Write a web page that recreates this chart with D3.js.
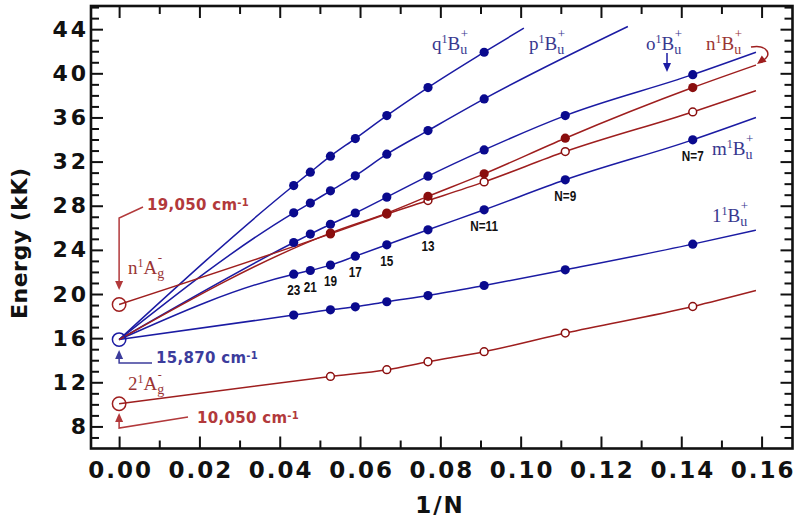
<!DOCTYPE html>
<html>
<head>
<meta charset="utf-8">
<script src="https://cdn.jsdelivr.net/npm/d3@7"></script>
<style>
  html, body { margin: 0; padding: 0; background: #fff; }
  svg { display: block; }
</style>
</head>
<body>
<svg id="chart" width="800" height="522"></svg>
<script>
// ---------------- DATA ----------------
const N_all = [23, 21, 19, 17, 15, 13, 11, 9, 7];
const pointLabels = ["23", "21", "19", "17", "15", "13", "N=11", "N=9", "N=7"];

const q_N = [23, 21, 19, 17, 15, 13, 11];
const q_E = [29.83, 31.04, 32.49, 34.09, 36.17, 38.71, 41.91];
const p_N = [23, 21, 19, 17, 15, 13, 11];
const p_E = [27.36, 28.24, 29.35, 30.71, 32.67, 34.81, 37.68];
const o_N = [23, 21, 19, 17, 15, 13, 11, 9, 7];
const o_E = [24.67, 25.43, 26.32, 27.34, 28.78, 30.68, 33.06, 36.17, 39.88];
const nB_N = [19, 15, 13, 11, 9, 7];
const nB_E = [25.52, 27.33, 28.85, 30.89, 34.12, 38.71];
const nA_N = [19, 15, 13, 11, 9, 7];
const nA_E = [25.45, 27.25, 28.47, 30.16, 32.91, 36.50];
const m_N = [23, 21, 19, 17, 15, 13, 11, 9, 7];
const m_E = [21.80, 22.13, 22.62, 23.43, 24.46, 25.82, 27.63, 30.35, 33.97];
const b1_N = [23, 19, 17, 15, 13, 11, 9, 7];
const b1_E = [18.09, 18.57, 18.84, 19.30, 19.86, 20.77, 22.19, 24.52];
const a2_N = [19, 15, 13, 11, 9, 7];
const a2_E = [12.53, 13.14, 13.86, 14.77, 16.46, 18.87];

// extrapolated limits (1/N -> 0), kK
const BuLimit = 15.87;
const nAgLimit = 19.05;
const twoAgLimit = 10.05;

// far ends of the fitted curves [1/N, E]
const q_end = [0.1008, 44.10];
const p_end = [0.1267, 44.24];
const o_end = [0.1586, 41.91];
const nB_end = [0.1586, 40.75];
const nA_end = [0.1586, 38.43];
const m_end = [0.1586, 35.99];
const b1_end = [0.1586, 25.79];
const a2_end = [0.1586, 20.32];

const xMajorTicks = [0, 0.02, 0.04, 0.06, 0.08, 0.10, 0.12, 0.14, 0.16];
const xMinorTicks = [0.01, 0.03, 0.05, 0.07, 0.09, 0.11, 0.13, 0.15];
const yMajorTicks = [8, 12, 16, 20, 24, 28, 32, 36, 40, 44];
const yMinorTicks = [7, 9, 10, 11, 13, 14, 15, 17, 18, 19, 21, 22, 23, 25, 26, 27, 29, 30, 31, 33, 34, 35, 37, 38, 39, 41, 42, 43, 45, 46];

// ---------------- STYLE ----------------
const BLUE_LINE = "#1b1ba3", BLUE_DOT = "#0a0a8e", BLUE_TXT = "#38388f";
const RED_LINE = "#9e1e1e", RED_DOT = "#8a0e0e", RED_TXT = "#9a3434", RED_ANN = "#b2393b", BLUE_ANN = "#3c3c9c";

const svg = d3.select("#chart");
const L = 91, R = 792.5, T = 6, B = 448.5;
const x = d3.scaleLinear().domain([-0.007, 0.1677]).range([L, R]);
const y = d3.scaleLinear().domain([6, 46.1]).range([B, T]);

svg.append("rect").attr("width", 800).attr("height", 522).attr("fill", "#fff");

// ---------------- AXES ----------------
function styleAxis(g, showText) {
  g.select(".domain").remove();
  g.selectAll(".tick line").attr("stroke", "#111").attr("stroke-width", 2);
  if (!showText) g.selectAll(".tick text").remove();
}
const tickFont = "'DejaVu Sans', 'Liberation Sans', sans-serif";

// bottom
const gxb = svg.append("g").attr("transform", `translate(0,${B})`)
  .call(d3.axisBottom(x).tickValues(xMajorTicks).tickSize(-12).tickPadding(13).tickFormat(d3.format(".2f")));
styleAxis(gxb, true);
gxb.selectAll(".tick text").attr("fill", "#111")
  .style("font-family", tickFont).style("font-weight", "bold").style("font-size", "23px")
  .style("letter-spacing", "2px").attr("dx", "1px");
svg.append("g").attr("transform", `translate(0,${B})`)
  .call(d3.axisBottom(x).tickValues(xMinorTicks).tickSize(-8)).call(g => styleAxis(g, false));
// top
svg.append("g").attr("transform", `translate(0,${T})`)
  .call(d3.axisTop(x).tickValues(xMajorTicks).tickSize(-12)).call(g => styleAxis(g, false));
svg.append("g").attr("transform", `translate(0,${T})`)
  .call(d3.axisTop(x).tickValues(xMinorTicks).tickSize(-8)).call(g => styleAxis(g, false));
// left
const gyl = svg.append("g").attr("transform", `translate(${L},0)`)
  .call(d3.axisLeft(y).tickValues(yMajorTicks).tickSize(-12).tickPadding(2));
styleAxis(gyl, true);
gyl.selectAll(".tick text").attr("fill", "#111")
  .style("font-family", tickFont).style("font-weight", "bold").style("font-size", "22px")
  .style("letter-spacing", "3px");
svg.append("g").attr("transform", `translate(${L},0)`)
  .call(d3.axisLeft(y).tickValues(yMinorTicks).tickSize(-8)).call(g => styleAxis(g, false));
// right
svg.append("g").attr("transform", `translate(${R},0)`)
  .call(d3.axisRight(y).tickValues(yMajorTicks).tickSize(-12)).call(g => styleAxis(g, false));
svg.append("g").attr("transform", `translate(${R},0)`)
  .call(d3.axisRight(y).tickValues(yMinorTicks).tickSize(-8)).call(g => styleAxis(g, false));

// frame
svg.append("rect").attr("x", L).attr("y", T).attr("width", R - L).attr("height", B - T)
  .attr("fill", "none").attr("stroke", "#111").attr("stroke-width", 2.6);

// axis titles
svg.append("text").attr("transform", `translate(27,${(T + B) / 2 + 16}) rotate(-90)`)
  .attr("text-anchor", "middle").attr("fill", "#111")
  .style("font-family", tickFont).style("font-weight", "bold").style("font-size", "22px")
  .style("letter-spacing", "0.5px").text("Energy (kK)");
svg.append("text").attr("x", 440).attr("y", 513).attr("text-anchor", "middle").attr("fill", "#111")
  .style("font-family", tickFont).style("font-weight", "bold").style("font-size", "23px")
  .style("letter-spacing", "2px").text("1/N");

// ---------------- CURVES ----------------
const line = d3.line().x(d => x(d[0])).y(d => y(d[1])).curve(d3.curveMonotoneX);
function pts(Ns, Es) { return Ns.map((n, i) => [1 / n, Es[i]]); }
function curve(limit, Ns, Es, end, color) {
  const data = [[0, limit]].concat(pts(Ns, Es).sort((a, b) => a[0] - b[0]), [end]);
  svg.append("path").datum(data).attr("d", line).attr("fill", "none")
    .attr("stroke", color).attr("stroke-width", 1.5);
}
curve(BuLimit, q_N, q_E, q_end, BLUE_LINE);
curve(BuLimit, p_N, p_E, p_end, BLUE_LINE);
curve(BuLimit, o_N, o_E, o_end, BLUE_LINE);
curve(BuLimit, m_N, m_E, m_end, BLUE_LINE);
curve(BuLimit, b1_N, b1_E, b1_end, BLUE_LINE);
curve(BuLimit, nB_N, nB_E, nB_end, RED_LINE);
curve(nAgLimit, nA_N, nA_E, nA_end, RED_LINE);
curve(twoAgLimit, a2_N, a2_E, a2_end, RED_LINE);

// limit circles
[[BuLimit, BLUE_LINE], [nAgLimit, RED_LINE], [twoAgLimit, RED_LINE]].forEach(([v, c]) => {
  svg.append("circle").attr("cx", x(0)).attr("cy", y(v)).attr("r", 6.7)
    .attr("fill", "none").attr("stroke", c).attr("stroke-width", 1.5);
});

// ---------------- MARKERS ----------------
function filled(Ns, Es, color) {
  svg.append("g").selectAll("circle").data(pts(Ns, Es)).join("circle")
    .attr("cx", d => x(d[0])).attr("cy", d => y(d[1])).attr("r", 4.6).attr("fill", color);
}
function open(Ns, Es, color) {
  svg.append("g").selectAll("circle").data(pts(Ns, Es)).join("circle")
    .attr("cx", d => x(d[0])).attr("cy", d => y(d[1])).attr("r", 3.9)
    .attr("fill", "#fff").attr("stroke", color).attr("stroke-width", 1.5);
}
filled(q_N, q_E, BLUE_DOT);
filled(p_N, p_E, BLUE_DOT);
filled(o_N, o_E, BLUE_DOT);
filled(m_N, m_E, BLUE_DOT);
filled(b1_N, b1_E, BLUE_DOT);
open(nA_N, nA_E, RED_DOT);
filled(nB_N, nB_E, RED_DOT);
open(a2_N, a2_E, RED_DOT);

// N labels under the m1Bu+ points (condensed bold)
svg.append("g").selectAll("text").data(m_N.map((n, i) => [1 / n, m_E[i], pointLabels[i]])).join("text")
  .attr("transform", d => `translate(${x(d[0])},${y(d[1]) + 21}) scale(0.84,1)`)
  .attr("text-anchor", "middle").attr("fill", "#111")
  .style("font-family", "'Liberation Sans', Arial, sans-serif")
  .style("font-weight", "bold").style("font-size", "14px").text(d => d[2]);

// ---------------- STATE LABELS ----------------
function term(px, py, a, sup, b, sub, sign, color, signSize, signDy) {
  const t = svg.append("text").attr("x", px).attr("y", py).attr("fill", color)
    .style("font-family", "'Liberation Serif', 'Times New Roman', serif").style("font-size", "19px");
  t.append("tspan").text(a);
  t.append("tspan").attr("dy", -7).style("font-size", "12px").text(sup);
  t.append("tspan").attr("dy", 7).text(b);
  t.append("tspan").attr("dy", 4).style("font-size", "14px").text(sub);
  t.append("tspan").attr("dx", -6.5).attr("dy", signDy || -16)
    .style("font-size", (signSize || 13) + "px").text(sign);
}
term(432, 50, "q", "1", "B", "u", "+", BLUE_TXT);
term(529, 50, "p", "1", "B", "u", "+", BLUE_TXT);
term(646, 50, "o", "1", "B", "u", "+", BLUE_TXT);
term(706, 50, "n", "1", "B", "u", "+", RED_TXT);
term(712, 155, "m", "1", "B", "u", "+", BLUE_TXT);
term(712, 222, "1", "1", "B", "u", "+", BLUE_TXT);
term(128, 274, "n", "1", "A", "g", "-", RED_TXT);
term(128, 390, "2", "1", "A", "g", "-", RED_TXT, 12, -15);

// ---------------- ANNOTATIONS ----------------
function arrowHead(tx, ty, dx, dy, color) {
  const len = 9, hw = 4;
  const bx = tx - dx * len, by = ty - dy * len;
  const pxp = -dy * hw, pyp = dx * hw;
  svg.append("path").attr("d", `M${tx},${ty}L${bx + pxp},${by + pyp}L${bx - pxp},${by - pyp}Z`).attr("fill", color);
}
function poly(points, color) {
  svg.append("path").attr("d", d3.line()(points)).attr("fill", "none")
    .attr("stroke", color).attr("stroke-width", 1.5);
}
function ann(px, py, main, color) {
  const t = svg.append("text").attr("x", px).attr("y", py).attr("fill", color)
    .style("font-family", tickFont).style("font-weight", "bold").style("font-size", "15px")
    .style("letter-spacing", "0.3px");
  t.append("tspan").text(main);
  t.append("tspan").attr("dy", -4).style("font-size", "10px").text("-1");
}
const x0 = x(0);
// 19,050
poly([[143, 207], [x0, 218], [x0, 282]], RED_ANN);
arrowHead(x0, 290, 0, 1, RED_ANN);
ann(147, 210, "19,050 cm", RED_ANN);
// 15,870
poly([[152, 363], [x0, 363], [x0, 357]], BLUE_ANN);
arrowHead(x0, 350, 0, -1, BLUE_ANN);
ann(156, 363, "15,870 cm", BLUE_ANN);
// 10,050
poly([[188, 417], [x0, 428], [x0, 420]], RED_ANN);
arrowHead(x0, 413, 0, -1, RED_ANN);
ann(197, 423, "10,050 cm", RED_ANN);

// o1Bu+ arrow
poly([[667, 53], [667, 65]], BLUE_LINE);
arrowHead(667, 72, 0, 1, BLUE_LINE);
// n1Bu+ curved arrow
svg.append("path").attr("d", "M751,47 C768,44 773,56 762,61").attr("fill", "none")
  .attr("stroke", RED_LINE).attr("stroke-width", 1.5);
arrowHead(757, 64, -0.8, 0.6, RED_LINE);
</script>
</body>
</html>
